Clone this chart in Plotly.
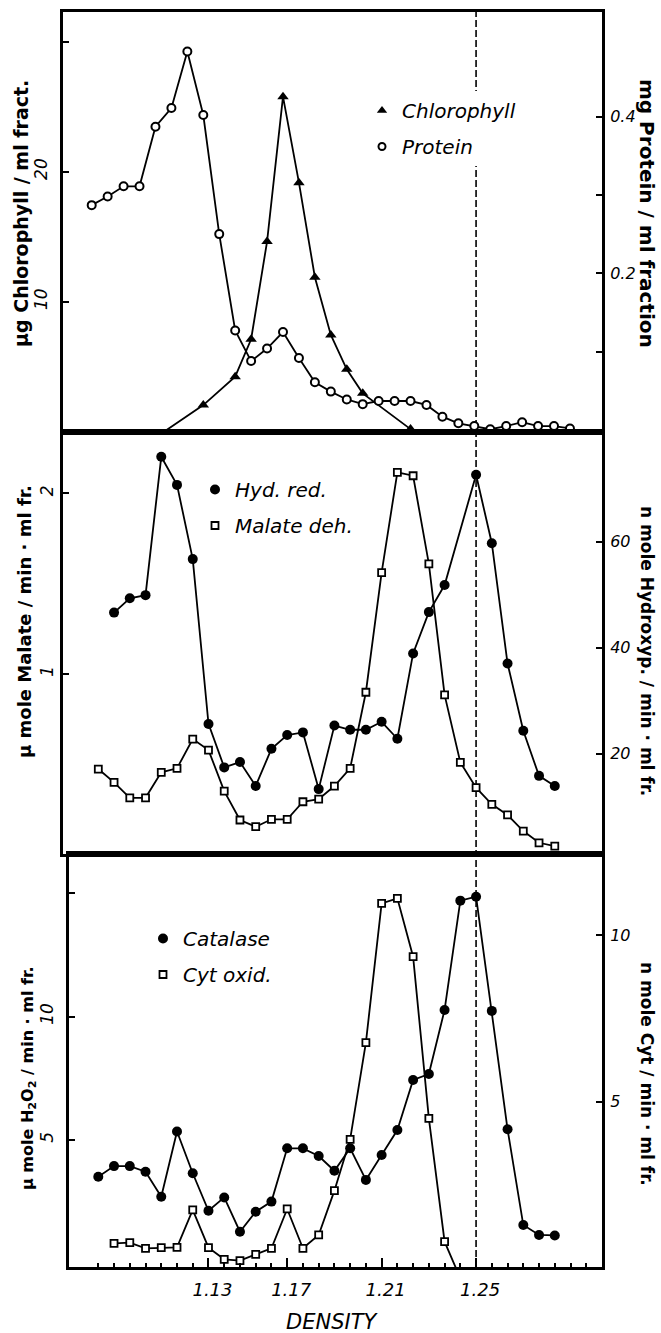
import plotly.graph_objects as go

W, H = 661, 1333

# ---------------- data ----------------
# Top panel (fraction number along the top panel's own drawn scale)
protein_frac = list(range(0, 31))
protein_mg = [0.287, 0.298, 0.311, 0.311, 0.387, 0.411, 0.483, 0.402, 0.250, 0.127,
              0.088, 0.104, 0.125, 0.092, 0.061, 0.049, 0.039, 0.033, 0.037, 0.037,
              0.037, 0.032, 0.017, 0.0086, 0.005, 0.001, 0.005, 0.010, 0.005, 0.005, 0.002]
chl_frac = [4, 7, 9, 10, 11, 12, 13, 14, 15, 16, 17, 20]
chl_ug = [-0.45, 2.05, 4.23, 7.11, 14.62, 25.77, 19.15, 11.88, 7.44, 4.80, 2.95, 0.2]

# Middle panel
hyd_frac = list(range(1, 23)) + list(range(24, 30))
hyd_nmole = [46.6, 49.3, 49.9, 76.0, 70.7, 56.7, 25.6, 17.4, 18.4, 13.9,
             20.9, 23.5, 24.0, 13.3, 25.3, 24.5, 24.5, 26.0, 22.8, 38.9,
             46.7, 51.8, 72.6, 59.7, 37.0, 24.3, 15.8, 13.9]
mal_frac = list(range(0, 30))
mal_umole = [0.474, 0.40, 0.315, 0.315, 0.456, 0.478, 0.640, 0.579, 0.352, 0.192,
             0.155, 0.196, 0.196, 0.293, 0.307, 0.380, 0.478, 0.899, 1.561, 2.116,
             2.097, 1.609, 0.884, 0.511, 0.371, 0.279, 0.220, 0.131, 0.066, 0.048]

# Bottom panel
cat_frac = list(range(0, 30))
cat_umole = [3.51, 3.94, 3.94, 3.71, 2.70, 5.34, 3.65, 2.13, 2.67, 1.28,
             2.09, 2.50, 4.66, 4.66, 4.35, 3.75, 4.66, 3.38, 4.39, 5.40,
             7.43, 7.67, 10.27, 14.70, 14.86, 10.23, 5.43, 1.55, 1.15, 1.13]
cyt_frac = list(range(1, 24))
cyt_nmole = [0.75, 0.77, 0.60, 0.62, 0.63, 1.75, 0.62, 0.27, 0.23, 0.42,
             0.60, 1.78, 0.60, 1.00, 2.33, 3.87, 6.77, 10.95, 11.10, 9.35,
             4.50, 0.80, -0.30]

# Density axis
fraction_ticks = list(range(0, 32))
density_tick_frac = [7, 12, 18, 24]
density_tick_text = ["1.13", "1.17", "1.21", "1.25"]
marked_density_frac = 24  # 1.25

# ---------------- helpers ----------------
def px(p):
    return p / W


def py(p):
    return 1 - p / H


FONT = "DejaVu Sans"
tickfont = dict(family=FONT, size=17, color="black", style="italic")
rtickfont = dict(family=FONT, size=16, color="black", style="italic")
LINE = dict(color="black", width=1.8)

fig = go.Figure()

# ---- traces ----
fig.add_trace(go.Scatter(x=chl_frac, y=chl_ug, xaxis="x", yaxis="y", mode="lines+markers",
                         line=LINE, marker=dict(symbol="triangle-up", size=10, color="black"),
                         showlegend=False))
fig.add_trace(go.Scatter(x=protein_frac, y=protein_mg, xaxis="x", yaxis="y2", mode="lines+markers",
                         line=LINE, marker=dict(symbol="circle", size=8, color="white",
                                                line=dict(color="black", width=2)),
                         showlegend=False))
fig.add_trace(go.Scatter(x=mal_frac, y=mal_umole, xaxis="x2", yaxis="y3", mode="lines+markers",
                         line=LINE, marker=dict(symbol="square", size=7, color="white",
                                                line=dict(color="black", width=1.8)),
                         showlegend=False))
fig.add_trace(go.Scatter(x=hyd_frac, y=hyd_nmole, xaxis="x2", yaxis="y4", mode="lines+markers",
                         line=LINE, marker=dict(symbol="circle", size=10, color="black"),
                         showlegend=False))
fig.add_trace(go.Scatter(x=cyt_frac, y=cyt_nmole, xaxis="x3", yaxis="y6", mode="lines+markers",
                         line=LINE, marker=dict(symbol="square", size=7, color="white",
                                                line=dict(color="black", width=1.8)),
                         showlegend=False))
fig.add_trace(go.Scatter(x=cat_frac, y=cat_umole, xaxis="x3", yaxis="y5", mode="lines+markers",
                         line=LINE, marker=dict(symbol="circle", size=10, color="black"),
                         showlegend=False))

# ---- legend entries (marker only) ----
def legend_entry(name, legend, group, marker):
    fig.add_trace(go.Scatter(x=[None], y=[None], mode="markers", name=name, legend=legend,
                             legendgroup=group, marker=marker, xaxis="x", yaxis="y"))

tri = dict(symbol="triangle-up", size=9, color="black")
opencirc = dict(symbol="circle", size=7, color="white", line=dict(color="black", width=2))
dot = dict(symbol="circle", size=10, color="black")
opensq = dict(symbol="square", size=7, color="white", line=dict(color="black", width=1.8))

legend_entry("Chlorophyll", "legend", "a", tri)
legend_entry("Protein", "legend", "b", opencirc)
legend_entry("Hyd. red.", "legend2", "c", dot)
legend_entry("Malate deh.", "legend2", "d", opensq)
legend_entry("Catalase", "legend3", "e", dot)
legend_entry("Cyt oxid.", "legend3", "f", opensq)

# ---- axes ----
frame = dict(showline=True, linewidth=3, linecolor="black", showgrid=False, zeroline=False)


def xax(dom_l, dom_r, rng, anchor, **kw):
    d = dict(frame, domain=[px(dom_l), px(dom_r)], range=rng, anchor=anchor, mirror=True,
             showticklabels=False, ticks="")
    d.update(kw)
    return d


def yax(top, bottom, rng, anchor, tickvals, side="left", overlaying=None, minor_vals=None,
        standoff=6):
    d = dict(frame, range=rng, anchor=anchor, tickmode="array", tickvals=tickvals,
             ticktext=[str(v) for v in tickvals], ticks="inside", ticklen=6, tickwidth=2,
             tickcolor="black", side=side, ticklabelstandoff=standoff)
    if minor_vals:
        d["minor"] = dict(tickmode="array", tickvals=minor_vals, ticks="inside", ticklen=6,
                          tickwidth=2, tickcolor="black")
    if overlaying:
        d["overlaying"] = overlaying
        d["tickfont"] = rtickfont
    else:
        d["domain"] = [py(bottom), py(top)]
        d["tickangle"] = -90
        d["tickfont"] = tickfont
    return d


fig.update_layout(
    xaxis=xax(63, 602, [-1.80, 32.01], "y"),
    yaxis=yax(12, 432, [-0.023, 32.28], "x", [10, 20], minor_vals=[30], standoff=6),
    yaxis2=yax(12, 432, [-0.00255, 0.5335], "x", [0.2, 0.4], side="right", overlaying="y",
               minor_vals=[0.1, 0.3], standoff=2),
    xaxis2=xax(63, 602, [-2.243, 32.0], "y3"),
    yaxis3=yax(432, 854, [0.0039, 2.339], "x2", [1, 2], standoff=0),
    yaxis4=yax(432, 854, [1.057, 80.68], "x2", [20, 40, 60], side="right", overlaying="y3",
               standoff=2),
    xaxis3=xax(69, 602, [-1.861, 32.0], "y5", showticklabels=True, tickmode="array",
               tickvals=density_tick_frac, ticktext=density_tick_text, ticks="inside",
               ticklen=9, tickwidth=2, tickcolor="black", tickfont=dict(tickfont, size=18),
               ticklabelstandoff=4, ticklabelshift=4,
               minor=dict(tickmode="array", tickvals=fraction_ticks, ticks="inside",
                          ticklen=4, tickwidth=1.5, tickcolor="black")),
    yaxis5=yax(854, 1267, [-0.15, 16.59], "x3", [5, 10], minor_vals=[15], standoff=6),
    yaxis6=yax(854, 1267, [0.039, 12.43], "x3", [5, 10], side="right", overlaying="y5",
               standoff=2),
)

# ---- dashed marker line at density 1.25 ----
fig.add_shape(type="line", xref="x3", yref="paper", x0=marked_density_frac, x1=marked_density_frac,
              y0=py(1267), y1=py(12), line=dict(color="black", width=1.6, dash="7px,3px"),
              layer="below")

# ---- legends ----
legfont = dict(family=FONT, size=20, color="black", style="italic")


def leg(xp, yp):
    return dict(x=px(xp), y=py(yp), xanchor="left", yanchor="top", bgcolor="white",
                borderwidth=0, font=legfont, tracegroupgap=7, itemwidth=30)


fig.update_layout(legend=leg(362, 91), legend2=leg(195, 470), legend3=leg(143, 919))

# ---- axis titles ----
titlefont = dict(family=FONT, color="black", weight="bold")


def title(text, xp, yp, angle, size):
    fig.add_annotation(text=text, x=px(xp), y=py(yp), xref="paper", yref="paper",
                       showarrow=False, textangle=angle, xanchor="center", yanchor="middle",
                       font=dict(titlefont, size=size))


title("μg Chlorophyll / ml fract.", 21, 214, -90, 19)
title("μ mole Malate / min · ml fr.", 25, 622, -90, 18)
title("μ mole H<sub>2</sub>O<sub>2</sub> / min · ml fr.", 28, 1078, -90, 16)
title("mg Protein / ml fraction", 647, 213, 90, 20)
title("n mole Hydroxyp. / min · ml fr.", 647, 651, 90, 17)
title("n mole Cyt / min · ml fr.", 647, 1074, 90, 17)
fig.add_annotation(text="DENSITY", x=px(332), y=py(1322), xref="paper", yref="paper",
                   showarrow=False, xanchor="center", yanchor="middle",
                   font=dict(family=FONT, size=21, color="black", style="italic"))

fig.update_layout(width=W, height=H, autosize=False, margin=dict(l=0, r=0, t=0, b=0),
                  paper_bgcolor="white", plot_bgcolor="white", showlegend=True)

fig.write_html("out.html", config={"displayModeBar": False},
               post_script="document.body.style.margin='0px';document.body.style.padding='0px';")
